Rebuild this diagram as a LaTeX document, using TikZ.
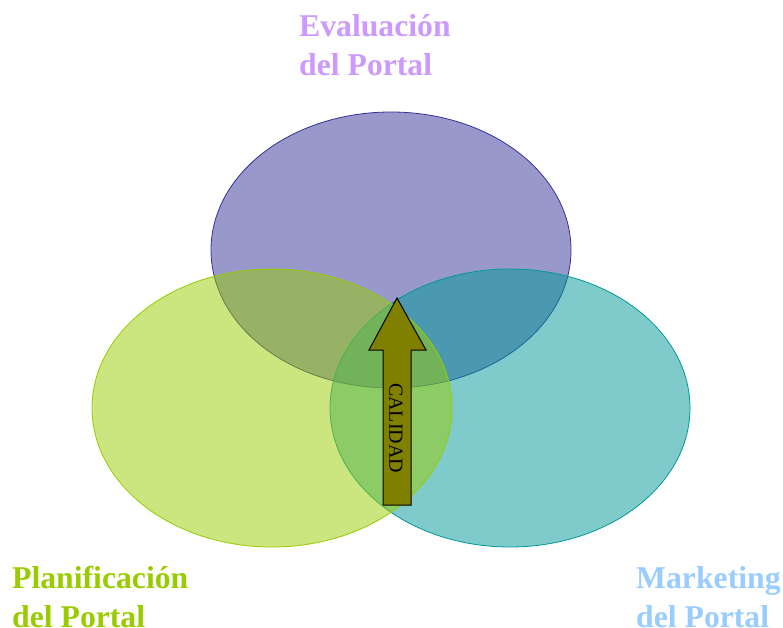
\documentclass[tikz,border=0pt]{standalone}
\usepackage{fontspec}
\setmainfont{Liberation Serif}
\usepackage{tikz}
\usetikzlibrary{positioning}

\definecolor{evalcol}{HTML}{333399}
\definecolor{plancol}{HTML}{99CC00}
\definecolor{markcol}{HTML}{009999}
\definecolor{evaltext}{HTML}{CC99FF}
\definecolor{marktext}{HTML}{99CCFF}
\definecolor{olivecol}{HTML}{808000}

\begin{document}
\begin{tikzpicture}[x=1pt,y=-1pt,thin]
    \tikzset{set/.style={fill opacity=0.5, draw opacity=1, line width=0.8pt},
             title/.style={font=\fontsize{31.7}{39}\selectfont\bfseries, align=left, inner sep=0pt, anchor=base west}}
    \useasboundingbox[fill=white] (0,0) rectangle (783,628);
    % the three sets
    \draw[set, draw=evalcol, fill=evalcol] (391,250) ellipse [x radius=180pt, y radius=138pt];
    \draw[set, draw=markcol, fill=markcol] (510,408) ellipse [x radius=180pt, y radius=139pt];
    \draw[set, draw=plancol, fill=plancol] (272,408) ellipse [x radius=180pt, y radius=139pt];
    % arrow
    \draw[line width=1pt, fill=olivecol, line join=miter]
        (397,298) -- (426,350) -- (411,350) -- (411,505) -- (383,505) -- (383,350) -- (369,350) -- cycle;
    \node[rotate=-90, font=\fontsize{20}{20}\selectfont, inner sep=0pt] (calidad) at (396,428) {CALIDAD};
    % labels (anchored at the baseline of the last line)
    \node[title, text=evaltext] (eval) at (299,76) {Evaluación\\del Portal};
    \node[title, text=plancol] (plan) at (12,627) {Planificación\\del Portal};
    \node[title, text=marktext] (mark) at (636,627) {Marketing\\del Portal};
\end{tikzpicture}
\end{document}
